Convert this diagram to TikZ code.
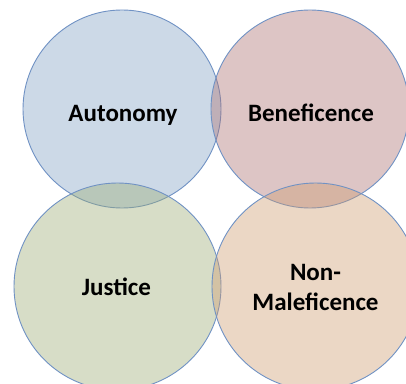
\documentclass[tikz,border=0pt]{standalone}
\usepackage{fontspec}
\setmainfont{Carlito}
\definecolor{edge}{RGB}{112,146,196}
\definecolor{cblue}{RGB}{128,160,197}
\definecolor{cpink}{RGB}{172,112,112}
\definecolor{cgreen}{RGB}{155,172,117}
\definecolor{cpeach}{RGB}{205,155,112}
\tikzset{
  venn/.style={circle, draw=edge, line width=0.9pt, fill opacity=0.4, text opacity=1,
    inner sep=0pt},
  lbl/.style={font=\bfseries\fontsize{25}{29}\selectfont, anchor=base, inner sep=0pt, text=black}
}
\begin{document}
\begin{tikzpicture}[x=1pt,y=1pt]
\useasboundingbox (0,0) rectangle (406,383);
\clip (0,0) rectangle (406,383);
\fill[white] (0,0) rectangle (406,383);
\node[venn, fill=cblue, minimum size=198pt] (aut) at (122,274) {};
\node[venn, fill=cpink, minimum size=198pt] (ben) at (310,274) {};
\node[venn, fill=cgreen, minimum size=207pt] (jus) at (117.5,96.5) {};
\node[venn, fill=cpeach, minimum size=207pt] (non) at (315.5,96.5) {};
\node[lbl] (taut) at (123,261) {Autonomy};
\node[lbl] (tben) at (311,261) {Beneficence};
\node[lbl] (tjus) at (116.5,88) {Justice};
\node[lbl] (tnon1) at (315.5,103) {Non-};
\node[lbl] (tnon2) at (315.5,73) {Maleficence};
\end{tikzpicture}
\end{document}
